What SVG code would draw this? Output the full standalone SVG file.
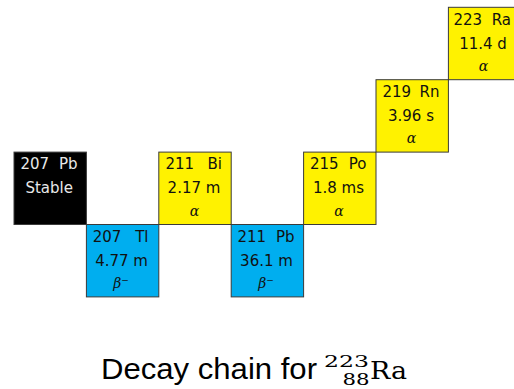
<svg xmlns="http://www.w3.org/2000/svg" width="514" height="389" viewBox="0 0 514 389">
<style>
.box{stroke:#3a3a3a;stroke-width:1}
.y{fill:#FFF200}
.b{fill:#00AEEF}
.k{fill:#000000}
.t{font-family:"DejaVu Sans","Liberation Sans",sans-serif;font-size:15px;fill:#111}
.w{fill:#e8e8e8}
.m{text-anchor:middle}
.e{text-anchor:end}
.g{font-family:"DejaVu Serif","Liberation Serif",serif;font-style:italic;font-size:14px;fill:#111;text-anchor:middle}
.title{font-family:"Liberation Sans",Arial,sans-serif;font-size:30px;fill:#000}
.ser{font-family:"DejaVu Serif","Liberation Serif",serif;fill:#000}
</style>
<rect width="514" height="389" fill="#fff"/>
<g id="connectors"/>
<g id="pb207">
<rect class="box k" x="14" y="152.1" width="72.4" height="72.4"/>
<text class="t w" x="20.5" y="169">207</text>
<text class="t w e" x="77.5" y="169">Pb</text>
<text class="t w m" x="49.2" y="193">Stable</text>
</g>
<g id="tl207">
<rect class="box b" x="86.4" y="224.5" width="72.4" height="72.4"/>
<text class="t" x="92.7" y="241.5">207</text>
<text class="t e" x="148.5" y="241.5">Tl</text>
<text class="t m" x="121.6" y="265.5">4.77 m</text>
<text class="g" x="121" y="287.5">β<tspan font-size="9" dy="-5" font-style="normal">−</tspan></text>
</g>
<g id="bi211">
<rect class="box y" x="158.8" y="152.1" width="72.4" height="72.4"/>
<text class="t" x="165.5" y="169">211</text>
<text class="t e" x="222" y="169">Bi</text>
<text class="t m" x="194" y="193">2.17 m</text>
<text class="g" x="194.5" y="215.5">α</text>
</g>
<g id="pb211">
<rect class="box b" x="231.2" y="224.5" width="72.4" height="72.4"/>
<text class="t" x="237.5" y="241.5">211</text>
<text class="t e" x="294.5" y="241.5">Pb</text>
<text class="t m" x="266.5" y="265.5">36.1 m</text>
<text class="g" x="266" y="287.5">β<tspan font-size="9" dy="-5" font-style="normal">−</tspan></text>
</g>
<g id="po215">
<rect class="box y" x="303.6" y="152.1" width="72.4" height="72.4"/>
<text class="t" x="310" y="169">215</text>
<text class="t e" x="366.5" y="169">Po</text>
<text class="t m" x="338.5" y="193">1.8 ms</text>
<text class="g" x="339" y="215.5">α</text>
</g>
<g id="rn219">
<rect class="box y" x="376" y="79.7" width="72.4" height="72.4"/>
<text class="t" x="382.5" y="96.5">219</text>
<text class="t e" x="439.5" y="96.5">Rn</text>
<text class="t m" x="411" y="120.5">3.96 s</text>
<text class="g" x="411.5" y="143">α</text>
</g>
<g id="ra223">
<rect class="box y" x="448.4" y="7.3" width="72.4" height="72.4"/>
<text class="t" x="453.5" y="24.5">223</text>
<text class="t e" x="511" y="24.5">Ra</text>
<text class="t m" x="483" y="48.5">11.4 d</text>
<text class="g" x="483.5" y="71">α</text>
</g>
<g id="title">
<text class="title" x="101" y="379" textLength="216" lengthAdjust="spacingAndGlyphs">Decay chain for</text>
<text class="ser" x="324" y="367" font-size="17" textLength="45" lengthAdjust="spacingAndGlyphs">223</text>
<text class="ser" x="342.5" y="385" font-size="16" textLength="27" lengthAdjust="spacingAndGlyphs">88</text>
<text class="ser" x="370" y="379" font-size="24" textLength="37" lengthAdjust="spacingAndGlyphs">Ra</text>
</g>
</svg>
